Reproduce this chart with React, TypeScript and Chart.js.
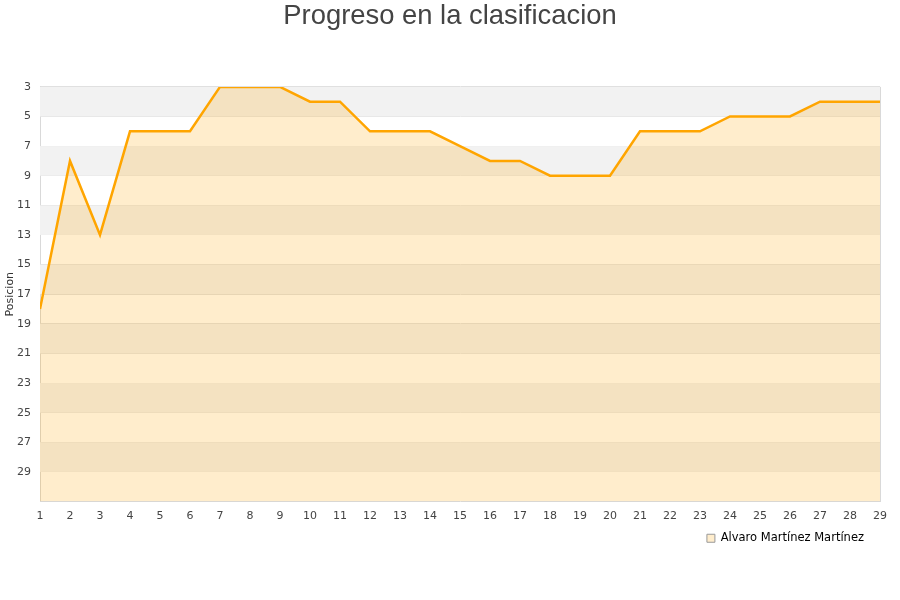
import React, { useEffect, useRef } from "react";
import { Chart, registerables } from "chart.js";

Chart.register(...registerables);

const jornadas = ["1","2","3","4","5","6","7","8","9","10","11","12","13","14","15","16","17","18","19","20","21","22","23","24","25","26","27","28","29"];
const posiciones = [18, 8, 13, 6, 6, 6, 3, 3, 3, 4, 4, 6, 6, 6, 7, 8, 8, 9, 9, 9, 6, 6, 6, 5, 5, 5, 4, 4, 4];
const yTicks = [3, 5, 7, 9, 11, 13, 15, 17, 19, 21, 23, 25, 27, 29];
const playerName = "Alvaro Martínez Martínez";
const chartTitle = "Progreso en la clasificacion";
const yTitle = "Posicion";

const bandsPlugin = {
  id: "bands",
  beforeDatasetsDraw(chart: any) {
    const { ctx, chartArea, scales } = chart;
    const y = scales.y;
    ctx.save();
    ctx.fillStyle = "#f2f2f2";
    for (let i = 0; i < yTicks.length; i += 2) {
      const a = yTicks[i];
      const b = a + 2;
      const p1 = y.getPixelForValue(a);
      const p2 = y.getPixelForValue(b);
      ctx.fillRect(chartArea.left, p1, chartArea.right - chartArea.left, p2 - p1);
    }
    ctx.restore();
  },
  afterDraw(chart: any) {
    const { ctx, chartArea } = chart;
    ctx.save();
    ctx.strokeStyle = "#d9d9d9";
    ctx.lineWidth = 1;
    ctx.beginPath();
    ctx.moveTo(Math.round(chartArea.right) + 0.5, chartArea.top);
    ctx.lineTo(Math.round(chartArea.right) + 0.5, chartArea.bottom);
    ctx.stroke();
    ctx.restore();
  },
};

const boxShiftPlugin = {
  id: "boxShift",
  afterLayout(chart: any) {
    if (chart.legend) {
      chart.legend.right -= 6;
    }
    if (chart.titleBlock) {
      chart.titleBlock.left = 0;
      chart.titleBlock.right = chart.width;
    }
  },
};

export default function App() {
  const ref = useRef<HTMLCanvasElement>(null);
  useEffect(() => {
    const chart = new Chart(ref.current!, {
      type: "line",
      data: {
        labels: jornadas,
        datasets: [
          {
            label: playerName,
            data: posiciones,
            borderColor: "#FFA500",
            borderWidth: 2.5,
            backgroundColor: "rgba(255,165,0,0.2)",
            fill: "start",
            pointRadius: 0,
            tension: 0,
            clip: 0,
          },
        ],
      },
      options: {
        animation: false,
        responsive: false,
        layout: { padding: { left: 0, right: 20, bottom: 46, top: 0 } },
        plugins: {
          title: {
            display: true,
            text: chartTitle,
            color: "#444",
            font: { family: "'Liberation Sans', Arial, sans-serif", size: 27.4, weight: "normal" },
            padding: { top: 0, bottom: 54 },
          },
          legend: {
            position: "bottom",
            align: "end",
            labels: {
              boxWidth: 8,
              boxHeight: 8,
              color: "#222",
              font: { family: "'DejaVu Sans', sans-serif", size: 11.5 },
              padding: 10,
              generateLabels: (c: any) =>
                c.data.datasets.map((d: any, i: number) => ({
                  text: d.label,
                  fillStyle: "rgba(255,165,0,0.2)",
                  strokeStyle: "#999",
                  lineWidth: 1,
                  datasetIndex: i,
                })),
            },
          },
          tooltip: { enabled: false },
        },
        scales: {
          x: {
            offset: false,
            grid: { display: false, drawTicks: false },
            border: { display: true, color: "#d9d9d9" },
            afterFit: (s: any) => {
              s.height = 21;
            },
            ticks: {
              autoSkip: false,
              maxRotation: 0,
              padding: 8,
              color: "#444",
              font: { family: "'DejaVu Sans', sans-serif", size: 11 },
            },
          },
          y: {
            reverse: true,
            min: 3,
            max: 31,
            afterBuildTicks: (s: any) => {
              s.ticks = yTicks.map((v) => ({ value: v }));
            },
            afterFit: (s: any) => {
              s.width = 40;
            },
            grid: { color: "#dddddd", drawTicks: false },
            border: { display: true, color: "#d9d9d9" },
            ticks: {
              padding: 9,
              color: "#444",
              font: { family: "'DejaVu Sans', sans-serif", size: 11 },
            },
            title: {
              display: true,
              text: yTitle,
              color: "#333",
              padding: { top: 4, bottom: 0 },
              font: { family: "'DejaVu Sans', sans-serif", size: 11 },
            },
          },
        },
      },
      plugins: [bandsPlugin, boxShiftPlugin],
    });
    return () => chart.destroy();
  }, []);
  return (
    <div style={{ position: "fixed", left: 0, top: 0, width: 900, height: 600, background: "#fff" }}>
      <canvas ref={ref} width={900} height={600} style={{ width: 900, height: 600 }} />
    </div>
  );
}
